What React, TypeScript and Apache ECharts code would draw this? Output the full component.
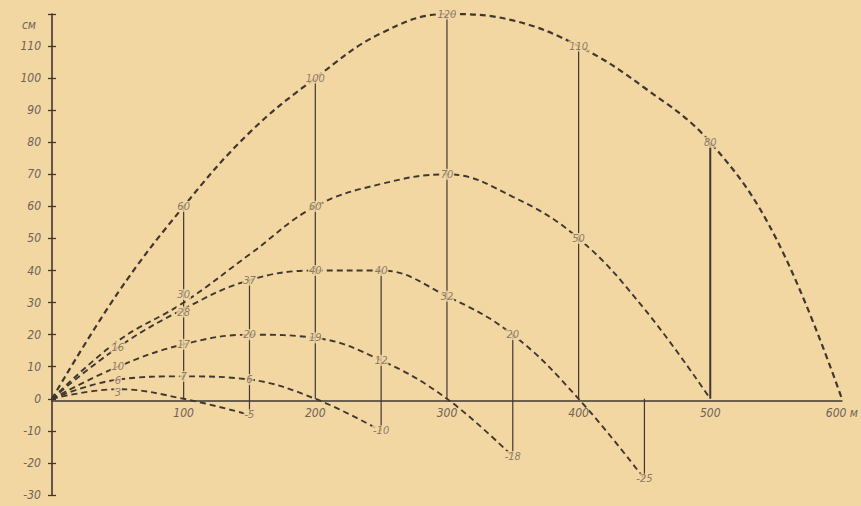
import { useEffect, useRef } from 'react';
import * as echarts from 'echarts';

// Range stations along the trajectory, metres
const ranges = [0, 50, 100, 150, 200, 250, 300, 350, 400, 450, 500, 550, 600];

// Height of the bullet path above the line of sight (cm) for each sight setting,
// at the stations above (each list stops where its trajectory ends)
const sight100 = [0, 3, 0, -5];
const sight200 = [0, 6, 7, 6, 0, -10];
const sight300 = [0, 10, 17, 20, 19, 12, 0, -18];
const sight400 = [0, 16, 28, 37, 40, 40, 32, 20, 0, -25];
const sight500 = [0, 18, 30, 45, 60, 67, 70, 63, 50, 28, 0];
const sight600 = [0, 33, 60, 83, 100, 114, 120, 118, 110, 97, 80, 50, 0];

// Stations where the height is written on each trajectory
const marks100 = [50, 150];
const marks200 = [50, 100, 150, 250];
const marks300 = [50, 100, 150, 200, 250, 350];
const marks400 = [50, 100, 150, 200, 250, 300, 350, 450];
const marks500 = [100, 200, 300, 400];
const marks600 = [100, 200, 300, 400, 500];

// Stations that get a vertical reference line
const verticalStations = [100, 150, 200, 250, 300, 350, 400, 450, 500];

const trajectories = [
  { sight: 100, heights: sight100, marks: marks100 },
  { sight: 200, heights: sight200, marks: marks200 },
  { sight: 300, heights: sight300, marks: marks300 },
  { sight: 400, heights: sight400, marks: marks400 },
  { sight: 500, heights: sight500, marks: marks500 },
  { sight: 600, heights: sight600, marks: marks600 },
];

// Small pixel nudges so crowded height notes do not collide ("sight:station")
const labelNudge: Record<string, [number, number]> = {
  '100:50': [0, 3],
  '200:50': [0, 1],
  '400:100': [0, 3],
  '500:100': [0, -8],
};

const PAPER = '#f3d7a2';
const INK = '#3f3731';
const PENCIL = '#6e6358';
const FONT = '"DejaVu Sans Condensed", "Liberation Sans Narrow", "DejaVu Sans", sans-serif';

export default function App() {
  const ref = useRef<HTMLDivElement>(null);

  useEffect(() => {
    if (!ref.current) return;
    const chart = echarts.init(ref.current, undefined, { renderer: 'svg' });

    const curveSeries = trajectories.map((t, i) => ({
      type: 'line',
      z: 2,
      smooth: 0.4,
      showSymbol: false,
      symbol: 'none',
      silent: true,
      data: t.heights.map((h, k) => [ranges[k], h]),
      lineStyle: {
        color: INK,
        width: i === trajectories.length - 1 ? 2.2 : 1.9,
        type: [6, 4],
      },
    }));

    const labelSeries = trajectories.map((t) => ({
      type: 'scatter',
      z: 3,
      silent: true,
      symbol: 'circle',
      symbolSize: 1,
      itemStyle: { color: 'rgba(0,0,0,0)' },
      data: t.marks.map((x) => {
        const nudge = labelNudge[`${t.sight}:${x}`];
        return {
          value: [x, t.heights[ranges.indexOf(x)]],
          label: nudge ? { offset: nudge } : undefined,
        };
      }),
      label: {
        show: true,
        position: 'inside',
        formatter: (p: any) => String(p.value[1]),
        fontFamily: FONT,
        fontStyle: 'italic',
        fontSize: 11,
        lineHeight: 11,
        color: PENCIL,
        backgroundColor: PAPER,
        padding: [0, 1],
      },
    }));

    // a station's vertical line spans the highest to the lowest written height (and the sight line)
    const verticalSeries = verticalStations.map((x) => {
      const written = trajectories
        .filter((t) => t.marks.includes(x))
        .map((t) => t.heights[ranges.indexOf(x)]);
      const top = Math.max(0, ...written);
      const bottom = Math.min(0, ...written);
      return {
        type: 'line',
        z: 1,
        silent: true,
        showSymbol: false,
        symbol: 'none',
        data: [
          [x, top],
          [x, bottom],
        ],
        lineStyle: { color: INK, width: x === 500 ? 2 : 1.2, type: 'solid' },
      };
    });

    const axisLabel = {
      fontFamily: FONT,
      fontStyle: 'italic',
      fontSize: 12,
      color: PENCIL,
    };

    chart.setOption({
      animation: false,
      backgroundColor: PAPER,
      grid: { left: 52, right: 16, top: 14, bottom: 11, containLabel: false },
      xAxis: {
        type: 'value',
        min: 0,
        max: 600,
        interval: 100,
        axisLine: { onZero: false, lineStyle: { color: INK, width: 1.6 } },
        axisTick: { show: false },
        splitLine: { show: false },
        axisLabel: {
          ...axisLabel,
          margin: 7,
          formatter: (v: number) => (v === 0 ? '' : v === 600 ? '600 м' : String(v)),
        },
      },
      yAxis: [
        {
          type: 'value',
          min: -30,
          max: 120,
          interval: 10,
          name: 'см',
          nameLocation: 'end',
          nameGap: -11,
          nameTextStyle: {
            ...axisLabel,
            align: 'right',
            verticalAlign: 'middle',
            padding: [0, 16, 0, 0],
          },
          axisLine: { show: true, lineStyle: { color: INK, width: 1.6 } },
          axisTick: { show: true, length: 4, lineStyle: { color: INK, width: 1.3 } },
          splitLine: { show: false },
          axisLabel: {
            ...axisLabel,
            margin: 11,
            formatter: (v: number) => (v === 120 ? '' : String(v)),
          },
        },
        {
          type: 'value',
          min: -30,
          max: 120,
          interval: 10,
          position: 'left',
          axisLine: { show: false },
          axisTick: { show: true, inside: true, length: 4, lineStyle: { color: INK, width: 1.3 } },
          axisLabel: { show: false },
          splitLine: { show: false },
        },
      ],
      series: [...verticalSeries, ...curveSeries, ...labelSeries],
    });

    // lift the range axis (line and labels) up onto the zero height line
    const yZero = chart.convertToPixel({ yAxisIndex: 0 }, 0) as number;
    const yBottom = chart.convertToPixel({ yAxisIndex: 0 }, -30) as number;
    chart.setOption({ xAxis: { offset: -(yBottom - yZero) } });

    return () => chart.dispose();
  }, []);

  return (
    <div
      ref={ref}
      style={{ position: 'fixed', left: 0, top: 0, width: 861, height: 506 }}
    />
  );
}
